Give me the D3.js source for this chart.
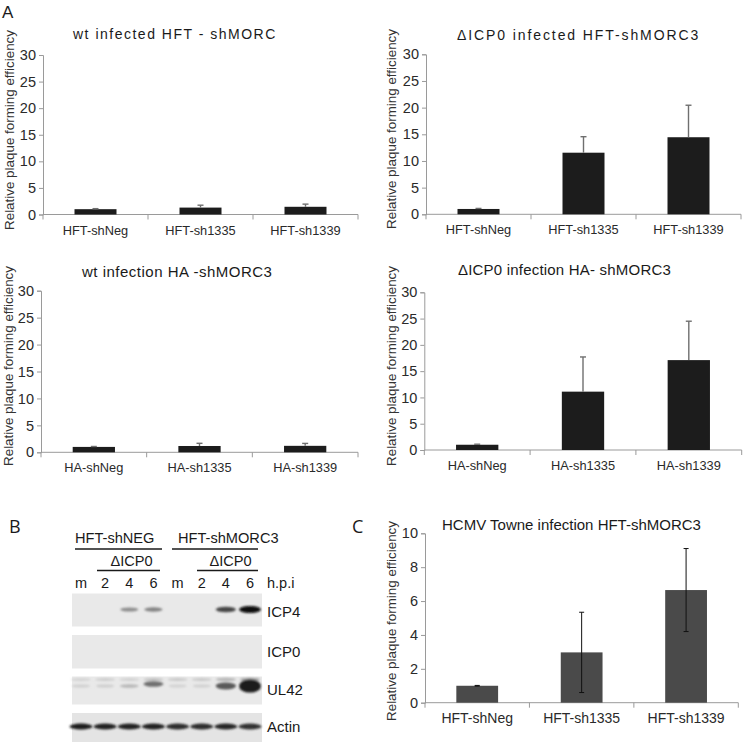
<!DOCTYPE html>
<html>
<head>
<meta charset="utf-8">
<script src="https://cdn.jsdelivr.net/npm/d3@7"></script>
<style>
  html,body{margin:0;padding:0;background:#fff;}
  svg{display:block;font-family:"Liberation Sans",Arial,sans-serif;}
</style>
</head>
<body>
<svg id="chart" width="750" height="742"></svg>
<script>
// ---------------- DATA ----------------
const catsHFT = ["HFT-shNeg", "HFT-sh1335", "HFT-sh1339"];
const catsHA = ["HA-shNeg", "HA-sh1335", "HA-sh1339"];

const wtHFT = [1.0, 1.3, 1.45];
const wtHFTErr = [0.1, 0.45, 0.5];
const dICP0HFT = [1.0, 11.55, 14.45];
const dICP0HFTErr = [0.1, 3.0, 6.0];
const wtHA = [1.0, 1.17, 1.2];
const wtHAErr = [0.08, 0.5, 0.45];
const dICP0HA = [1.0, 11.1, 17.1];
const dICP0HAErr = [0.1, 6.6, 7.4];
const hcmv = [1.0, 2.97, 6.65];
const hcmvErr = [0.02, 2.37, 2.45];

const ticksA = [0, 5, 10, 15, 20, 25, 30];
const ticksC = [0, 2, 4, 6, 8, 10];

const titles = [
  "wt infected HFT - shMORC",
  "\u0394ICP0 infected HFT-shMORC3",
  "wt infection HA -shMORC3",
  "\u0394ICP0 infection HA- shMORC3",
  "HCMV Towne infection HFT-shMORC3"
];
const yLabel = "Relative plaque forming efficiency";

// Western blot
const lanes = ["m", "2", "4", "6", "m", "2", "4", "6"];
const blotRows = ["ICP4", "ICP0", "UL42", "Actin"];
const icp4 = [0, 0, 0.35, 0.4, 0, 0, 0.7, 1.0];
const icp0 = [0, 0, 0, 0, 0, 0, 0, 0];
const ul42 = [0.03, 0.04, 0.15, 0.5, 0.02, 0.03, 0.6, 1.0];
const ul42Upper = [0.05, 0.08, 0.06, 0.15, 0.1, 0.1, 0.22, 0.35];
const actin = [0.9, 0.88, 0.88, 0.88, 0.82, 0.82, 0.85, 0.8];
const groupLabels = ["HFT-shNEG", "HFT-shMORC3"];
const subLabel = "\u0394ICP0";

// ---------------- DRAW ----------------
const svg = d3.select("#chart");
const defs = svg.append("defs");
defs.append("filter").attr("id", "blur").attr("x", "-50%").attr("y", "-100%").attr("width", "200%").attr("height", "300%")
  .append("feGaussianBlur").attr("stdDeviation", 1.1);

const axisColor = "#9a9a9a";
const textColor = "#2a2a2a";
const FONT = "Liberation Sans, Arial, sans-serif";

function barPanel(c) {
  const g = svg.append("g");
  const x = d3.scaleBand().domain(c.cats).range([c.x0, c.x1]).paddingInner(0.6).paddingOuter(0.3);
  const y = d3.scaleLinear().domain([0, c.max]).range([c.yBot, c.yTop]);

  // y axis
  const ya = d3.axisLeft(y).tickValues(c.ticks).tickSize(4).tickPadding(3).tickFormat(d3.format("d"));
  const yg = g.append("g").attr("transform", `translate(${c.x0},0)`).call(ya)
    .attr("font-family", FONT).attr("font-size", 14.5);
  yg.select(".domain").attr("stroke", axisColor);
  yg.selectAll(".tick line").attr("stroke", axisColor);
  yg.selectAll(".tick text").attr("fill", textColor);

  // x axis line + boundary ticks
  g.append("line").attr("x1", c.x0).attr("x2", c.x1).attr("y1", c.yBot).attr("y2", c.yBot)
    .attr("stroke", axisColor);
  const step = x.step();
  const bounds = d3.range(c.cats.length + 1).map(i => c.x0 + i * step);
  g.selectAll(".xt").data(bounds).join("line")
    .attr("x1", d => d).attr("x2", d => d).attr("y1", c.yBot).attr("y2", c.yBot + 5)
    .attr("stroke", axisColor);
  g.selectAll(".xl").data(c.cats).join("text")
    .attr("x", d => x(d) + x.bandwidth() / 2).attr("y", c.yBot + c.catDy)
    .attr("text-anchor", "middle").attr("font-size", c.catSize).attr("fill", textColor).text(d => d);

  // bars
  g.selectAll(".bar").data(c.vals).join("rect")
    .attr("x", (d, i) => x(c.cats[i])).attr("width", x.bandwidth())
    .attr("y", d => y(d)).attr("height", d => y(0) - y(d))
    .attr("fill", c.barColor);

  // error bars
  c.vals.forEach((v, i) => {
    const cx = x(c.cats[i]) + x.bandwidth() / 2;
    const hi = y(v + c.errs[i]);
    const lo = c.twoSided ? y(v - c.errs[i]) : y(v);
    g.append("line").attr("x1", cx).attr("x2", cx).attr("y1", lo).attr("y2", hi)
      .attr("stroke", c.errColor).attr("stroke-width", c.errWidth);
    g.append("line").attr("x1", cx - c.cap).attr("x2", cx + c.cap).attr("y1", hi).attr("y2", hi)
      .attr("stroke", c.errColor).attr("stroke-width", c.errWidth);
    if (c.twoSided) {
      g.append("line").attr("x1", cx - c.cap).attr("x2", cx + c.cap).attr("y1", lo).attr("y2", lo)
        .attr("stroke", c.errColor).attr("stroke-width", c.errWidth);
    }
  });

  // title
  g.append("text").attr("x", c.tx).attr("y", c.ty).attr("font-size", c.tSize)
    .attr("letter-spacing", c.tLS).attr("fill", "#1a1a1a").text(c.title);

  // y label
  g.append("text").attr("transform", `translate(${c.lx},${c.ly}) rotate(-90)`)
    .attr("text-anchor", "middle").attr("font-size", c.lSize).attr("fill", "#333").text(yLabel);
}

const common = {
  barColor: "#1c1c1c", errColor: "#6f6f6f", errWidth: 1.4, cap: 3, twoSided: false,
  catSize: 12.8, catDy: 20, lSize: 13.4, max: 30, ticks: ticksA
};

barPanel(Object.assign({}, common, {
  cats: catsHFT, vals: wtHFT, errs: wtHFTErr,
  x0: 43, x1: 358, yTop: 55, yBot: 214.5,
  title: titles[0], tx: 73, ty: 39, tSize: 14, tLS: 1.5, lx: 14, ly: 130
}));
barPanel(Object.assign({}, common, {
  cats: catsHFT, vals: dICP0HFT, errs: dICP0HFTErr,
  x0: 426, x1: 741, yTop: 54.3, yBot: 214.3,
  title: titles[1], tx: 457, ty: 40, tSize: 14, tLS: 1.9, lx: 395.5, ly: 129
}));
barPanel(Object.assign({}, common, {
  cats: catsHA, vals: wtHA, errs: wtHAErr,
  x0: 41, x1: 358, yTop: 290.7, yBot: 452.3,
  title: titles[2], tx: 82, ty: 277, tSize: 15, tLS: 0.5, lx: 12.5, ly: 366
}));
barPanel(Object.assign({}, common, {
  cats: catsHA, vals: dICP0HA, errs: dICP0HAErr,
  x0: 424.3, x1: 741.7, yTop: 292.3, yBot: 450,
  title: titles[3], tx: 458, ty: 275, tSize: 15, tLS: 0.2, lx: 395.5, ly: 366
}));
barPanel(Object.assign({}, common, {
  cats: catsHFT, vals: hcmv, errs: hcmvErr, ticks: ticksC, max: 10,
  x0: 425, x1: 738.3, yTop: 533.3, yBot: 702.7,
  barColor: "#4a4a4a", errColor: "#111", errWidth: 1, cap: 2.5, twoSided: true, catSize: 14, catDy: 20,
  title: titles[4], tx: 442, ty: 530, tSize: 15, tLS: 0, lx: 395.5, ly: 621
}));

// Panel letters
svg.append("text").attr("x", 2).attr("y", 18).attr("font-size", 17).attr("fill", "#1a1a1a").text("A");
svg.append("text").attr("x", 9).attr("y", 533).attr("font-size", 18).attr("font-family", "Open Sans, sans-serif")
  .attr("fill", "#1a1a1a").text("B");
svg.append("text").attr("x", 352).attr("y", 533).attr("font-size", 18).attr("font-family", "Open Sans, sans-serif")
  .attr("fill", "#1a1a1a").text("C");

// ---------------- Western blot ----------------
const bg = svg.append("g");
const lx = d3.scalePoint().domain(d3.range(lanes.length)).range([81, 250]);
const blotX0 = 72, blotX1 = 262;
const rowBoxes = [[593.5, 626.5], [635, 668.5], [676.5, 704.5], [713, 742]];
const rowData = [icp4, icp0, ul42, actin];
const rowBandY = [609.5, 651, 686, 726.5];

// group headers
const gStart = [75, 178], lineSpans = [[75, 162], [172, 258]], subSpans = [[97, 160], [197, 258]];
groupLabels.forEach((t, i) => {
  bg.append("text").attr("x", gStart[i]).attr("y", 543).attr("font-size", 14.6).attr("fill", "#1a1a1a").text(t);
  bg.append("line").attr("x1", lineSpans[i][0]).attr("x2", lineSpans[i][1]).attr("y1", 549).attr("y2", 549)
    .attr("stroke", "#1a1a1a").attr("stroke-width", 1.5);
  bg.append("text").attr("x", (subSpans[i][0] + subSpans[i][1]) / 2 + 3).attr("y", 566).attr("text-anchor", "middle")
    .attr("font-size", 14.6).attr("fill", "#1a1a1a").text(subLabel);
  bg.append("line").attr("x1", subSpans[i][0]).attr("x2", subSpans[i][1]).attr("y1", 570.5).attr("y2", 570.5)
    .attr("stroke", "#1a1a1a").attr("stroke-width", 1.5);
});
bg.selectAll(".lane").data(lanes).join("text")
  .attr("x", (d, i) => lx(i)).attr("y", 588).attr("text-anchor", "middle")
  .attr("font-size", 14.5).attr("fill", "#1a1a1a").text(d => d);
bg.append("text").attr("x", 267).attr("y", 588).attr("font-size", 14.5).attr("fill", "#1a1a1a").text("h.p.i");

rowBoxes.forEach((b, r) => {
  bg.append("rect").attr("x", blotX0).attr("y", b[0]).attr("width", blotX1 - blotX0).attr("height", b[1] - b[0])
    .attr("fill", r === 3 ? "#e4e4e4" : "#e9e9e9");
  bg.append("text").attr("x", 267).attr("y", [617, 657, 695, 732][r]).attr("font-size", 15)
    .attr("fill", "#1a1a1a").text(blotRows[r]);
});

const shade = d3.interpolateRgb("#d6d6d6", "#080808");
const bands = bg.append("g").attr("filter", "url(#blur)");
// UL42 upper faint band
ul42Upper.forEach((v, i) => {
  bands.append("ellipse").attr("cx", lx(i)).attr("cy", 679.5).attr("rx", 10).attr("ry", 1.3 + 1.5 * v)
    .attr("fill", shade(v)).attr("opacity", 0.8);
});
rowData.forEach((arr, r) => {
  arr.forEach((v, i) => {
    if (v <= 0.01) return;
    let rx, ry;
    if (r === 3) { rx = 11.5; ry = 3; }
    else if (r === 2) { rx = 9 + 2 * v; ry = 1.6 + 5 * v * v; }
    else { rx = 8 + 3 * v; ry = 1.3 + 2.2 * v; }
    bands.append("ellipse").attr("cx", lx(i)).attr("cy", rowBandY[r] + (r === 2 && i === 3 ? -2 : 0))
      .attr("rx", rx).attr("ry", ry).attr("fill", shade(r === 2 && v >= 1 ? 0.9 : v));
  });
});
</script>
</body>
</html>
